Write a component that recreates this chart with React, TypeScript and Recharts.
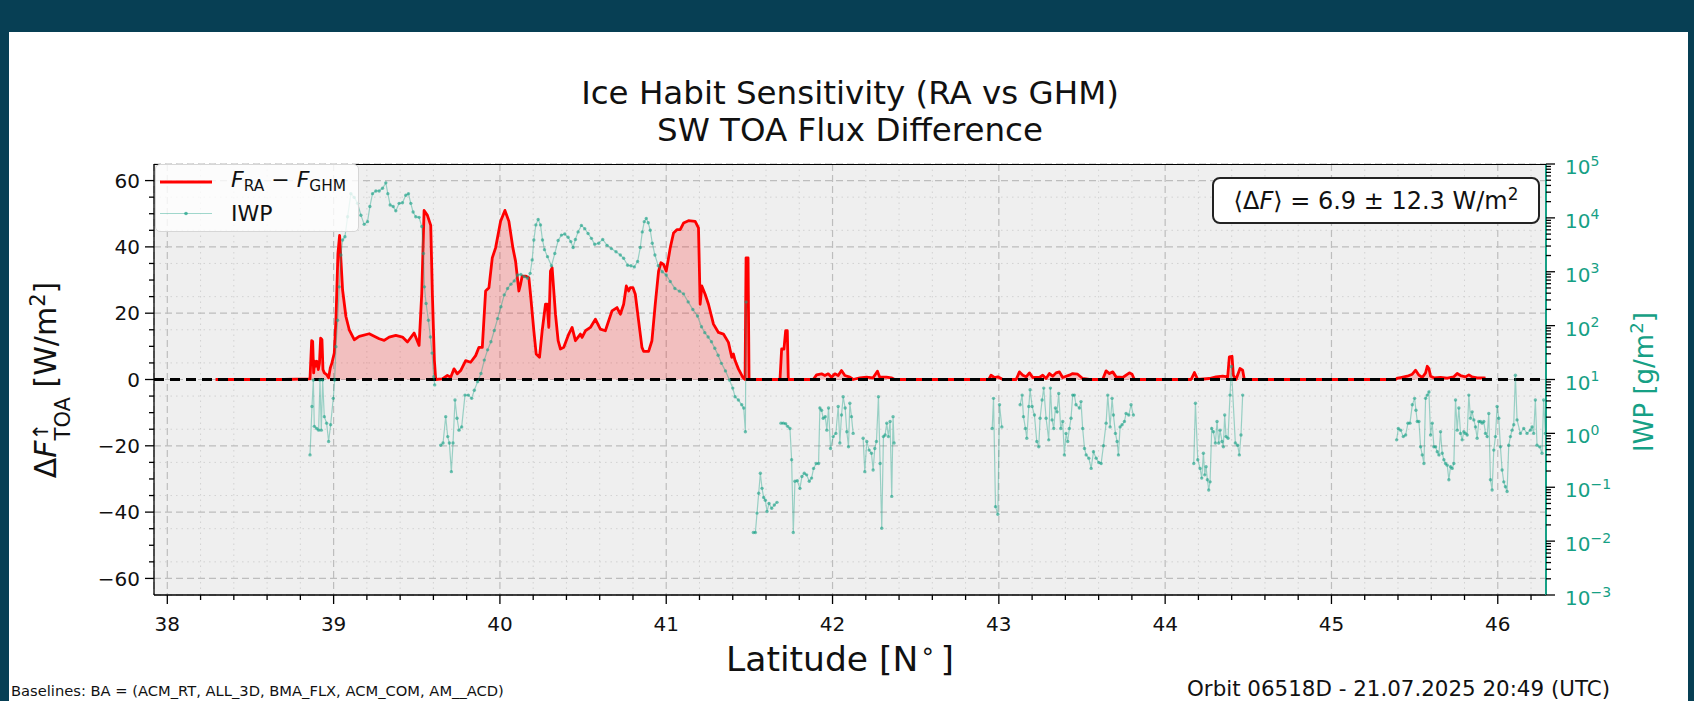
import React from 'react';
import { ComposedChart, Area, Line, XAxis, YAxis, CartesianGrid, ReferenceLine } from 'recharts';

const FONT = '"DejaVu Sans", "Liberation Sans", sans-serif';
const RED = '#ff0000';
const TEAL = '#16a085';
const FRAME = '#073f54';
const TICK_FS = 20;

// axis ticks
const LAT_MAJOR = [38, 39, 40, 41, 42, 43, 44, 45, 46];
const FLUX_MAJOR = [-60, -40, -20, 0, 20, 40, 60];
const IWP_EXPONENTS = [-3, -2, -1, 0, 1, 2, 3, 4, 5];

// F_RA - F_GHM  [latitude, W/m2]
const FLUX_WEST: [number, number][] = [
  [38.29, 0], [38.5, 0], [38.7, 0], [38.858, 0.2], [38.868, 11.7], [38.874, 11.5], [38.88, 2.0],
  [38.886, 5.5], [38.892, 4.0], [38.9, 5.5], [38.908, 3.0], [38.915, 5.0], [38.922, 12.5], [38.93, 12.0],
  [38.936, 3.0], [38.944, 2.0], [38.958, 1.5], [38.97, 0.5], [38.98, 3.5], [38.99, 5.0], [39.004, 8.0],
  [39.014, 18], [39.026, 38], [39.036, 43.5], [39.044, 36], [39.054, 27], [39.074, 19], [39.094, 15],
  [39.124, 12.0], [39.154, 13.0], [39.214, 13.8], [39.274, 12.3], [39.304, 11.8], [39.334, 12.8],
  [39.374, 13.3], [39.414, 12.8], [39.444, 11.3], [39.484, 14], [39.514, 10.3], [39.53, 26], [39.544, 51],
  [39.564, 49.5], [39.584, 46.5], [39.594, 25.5], [39.606, 5.7], [39.614, 0],
];
const FLUX_CORE: [number, number][] = [
  [39.654, 0.2], [39.684, 1.2], [39.704, 0.7], [39.724, 3.2], [39.744, 1.7], [39.764, 2.7], [39.794, 5.7],
  [39.824, 5.2], [39.854, 7.2], [39.874, 9.7], [39.894, 9.7], [39.914, 26.7], [39.934, 27.7], [39.954, 36.7],
  [39.974, 39.7], [40.004, 47.7], [40.03, 51], [40.054, 47.7], [40.078, 39.7], [40.094, 35.7], [40.114, 26.7],
  [40.124, 28.7], [40.134, 31.2], [40.154, 31.2], [40.174, 30.7], [40.184, 25.7], [40.204, 14.7], [40.218, 7.7],
  [40.238, 6.7], [40.254, 14.7], [40.274, 22.7], [40.284, 22.7], [40.294, 15.7], [40.304, 32.7], [40.314, 33.7],
  [40.334, 19.7], [40.35, 11.7], [40.364, 9.2], [40.384, 9.7], [40.414, 13.7], [40.434, 15.7], [40.454, 11.7],
  [40.484, 13.7], [40.494, 12.7], [40.514, 14.7], [40.544, 15.7], [40.574, 18.2], [40.604, 15.2], [40.634, 14.7],
  [40.654, 17.7], [40.674, 20.7], [40.704, 21.7], [40.724, 19.7], [40.744, 22.7], [40.76, 28.2], [40.774, 26.7],
  [40.784, 27.7], [40.8, 27.7], [40.814, 25.7], [40.834, 17.7], [40.854, 9.7], [40.864, 8.5], [40.894, 8.5],
  [40.914, 11.7], [40.934, 22.7], [40.954, 32.7], [40.968, 35.2], [40.984, 34.7], [41.0, 32.7], [41.014, 36.7],
  [41.024, 39.7], [41.044, 44.2], [41.064, 45.2], [41.084, 45.2], [41.104, 47.2], [41.134, 47.9], [41.174, 47.7],
  [41.194, 45.7], [41.204, 22.7], [41.214, 28.2], [41.234, 25.7], [41.254, 22.7], [41.284, 16.7], [41.314, 14.2],
  [41.344, 13.7], [41.374, 11.2], [41.394, 6.7], [41.404, 7.7], [41.414, 5.7], [41.434, 3.2], [41.46, 0.7],
  [41.474, 0], [41.48, 36.7], [41.492, 36.7], [41.498, 0],
];
const FLUX_EAST: [number, number][] = [
  [41.524, 0], [41.684, 0], [41.694, 9.2], [41.708, 9.2], [41.718, 14.7], [41.728, 14.7], [41.734, 0],
  [41.884, 0], [41.904, 1.4], [41.934, 1.7], [41.954, 1.2], [41.974, 1.7], [41.994, 0.7], [42.014, 1.7],
  [42.034, 1.2], [42.054, 2.7], [42.074, 1.2], [42.104, 0.7], [42.124, 0], [42.164, 0.5], [42.204, 0.7],
  [42.244, 0.5], [42.27, 2.5], [42.284, 0.7], [42.324, 0.7], [42.354, 0.5], [42.374, 0], [42.94, 0],
  [42.953, 1.3], [42.973, 0.6], [42.994, 0.8], [43.024, 0], [43.104, 0], [43.124, 2.3], [43.144, 1.3],
  [43.164, 0.8], [43.184, 2.0], [43.204, 0.6], [43.244, 0.6], [43.264, 1.3], [43.284, 0.3], [43.304, 1.8],
  [43.324, 1.0], [43.344, 2.0], [43.364, 2.3], [43.384, 0.6], [43.424, 1.3], [43.444, 1.8], [43.474, 1.6],
  [43.504, 0.3], [43.544, 0], [43.624, 0], [43.645, 2.6], [43.665, 1.8], [43.685, 2.3], [43.705, 0.8],
  [43.745, 0.6], [43.785, 2.0], [43.801, 1.6], [43.815, 0], [44.156, 0], [44.176, 2.1], [44.196, 0],
  [44.266, 0.3], [44.306, 0.8], [44.346, 1.0], [44.376, 0.8], [44.386, 6.8], [44.402, 7.0], [44.41, 1.3],
  [44.426, 0], [44.45, 3.3], [44.466, 2.8], [44.476, 0], [45.386, 0], [45.396, 0.4], [45.416, 0.6],
  [45.456, 1.0], [45.486, 1.6], [45.506, 2.8], [45.526, 1.3], [45.546, 0.6], [45.566, 2.0], [45.576, 4.0],
  [45.586, 3.3], [45.596, 1.0], [45.616, 0.5], [45.656, 0.6], [45.696, 0.4], [45.736, 0.8], [45.756, 1.8],
  [45.776, 1.2], [45.806, 0.8], [45.826, 1.4], [45.846, 0.8], [45.876, 0.5], [45.916, 0.5], [45.926, 0.4],
];

// IWP: [latitude, log10(g/m2)], one array per contiguous segment
const IWP_A: [number, number][] = [
  [38.858, -0.40], [38.87, 0.50], [38.878, 0.99], [38.884, 0.13], [38.898, 0.09], [38.91, 0.06], [38.918, 0.99],
  [38.926, 0.06], [38.934, 0.99], [38.944, 0.31], [38.958, 0.19], [38.97, -0.15], [38.982, 0.16], [38.998, 0.65],
  [39.006, 0.99], [39.014, 1.61], [39.024, 2.10], [39.034, 2.72], [39.044, 3.31], [39.054, 3.59], [39.068, 3.65],
  [39.084, 4.02], [39.104, 4.45], [39.124, 4.38], [39.144, 4.27], [39.164, 4.05], [39.184, 3.88], [39.204, 3.93],
  [39.218, 4.21], [39.234, 4.45], [39.254, 4.50], [39.274, 4.50], [39.294, 4.55], [39.314, 4.65], [39.326, 4.45],
  [39.34, 4.24], [39.358, 4.21], [39.374, 4.13], [39.394, 4.27], [39.414, 4.28], [39.434, 4.42], [39.45, 4.45],
  [39.464, 4.27], [39.478, 4.11], [39.494, 4.02], [39.514, 4.01], [39.53, 3.84], [39.54, 3.34], [39.546, 2.72],
  [39.556, 2.41], [39.57, 2.10], [39.582, 1.79], [39.592, 1.49], [39.602, 1.05], [39.608, 0.90],
];
const IWP_B: [number, number][] = [
  [39.644, -0.22], [39.658, -0.18], [39.674, 0.31], [39.686, -0.06], [39.696, -0.18], [39.708, -0.71],
  [39.718, -0.18], [39.73, 0.62], [39.742, 0.28], [39.754, 0.06], [39.77, 0.12], [39.79, 0.71], [39.81, 0.71],
  [39.83, 0.65], [39.846, 0.80], [39.866, 0.96], [39.886, 1.11], [39.906, 1.36], [39.926, 1.55], [39.946, 1.70],
  [39.966, 1.91], [39.986, 2.13], [40.006, 2.35], [40.026, 2.57], [40.046, 2.69], [40.066, 2.77], [40.086, 2.83],
  [40.106, 2.94], [40.126, 2.95], [40.146, 2.91], [40.166, 2.88], [40.182, 2.97], [40.194, 3.22], [40.204, 3.59],
  [40.216, 3.87], [40.23, 3.97], [40.244, 3.87], [40.256, 3.59], [40.268, 3.41], [40.286, 3.28], [40.31, 3.11],
  [40.33, 3.34], [40.35, 3.58], [40.37, 3.68], [40.39, 3.70], [40.41, 3.64], [40.426, 3.56], [40.44, 3.45],
  [40.454, 3.60], [40.47, 3.74], [40.49, 3.86], [40.51, 3.80], [40.53, 3.71], [40.55, 3.62], [40.57, 3.51],
  [40.594, 3.53], [40.618, 3.60], [40.644, 3.49], [40.67, 3.43], [40.698, 3.37], [40.724, 3.31], [40.744, 3.25],
  [40.768, 3.12], [40.788, 3.11], [40.808, 3.09], [40.828, 3.19], [40.844, 3.45], [40.856, 3.74], [40.868, 3.93],
  [40.88, 3.99], [40.892, 3.91], [40.904, 3.77], [40.916, 3.53], [40.932, 3.31], [40.952, 3.11], [40.976, 3.00],
  [41.0, 2.94], [41.024, 2.82], [41.052, 2.69], [41.08, 2.64], [41.104, 2.59], [41.132, 2.44], [41.16, 2.30],
  [41.188, 2.18], [41.212, 1.98], [41.232, 1.87], [41.252, 1.79], [41.272, 1.70], [41.292, 1.58], [41.312, 1.45],
  [41.332, 1.30], [41.356, 1.16], [41.38, 0.99], [41.4, 0.84], [41.414, 0.68], [41.434, 0.62], [41.454, 0.53],
  [41.466, 0.47], [41.476, 0.03], [41.48, 2.44],
];
const IWP_C: [number, number][] = [
  [41.524, -1.84], [41.536, -1.84], [41.546, -1.48], [41.556, -1.11], [41.566, -0.74], [41.576, -1.02],
  [41.586, -1.19], [41.596, -1.24], [41.606, -1.45], [41.618, -1.30], [41.634, -1.39], [41.65, -1.33], [41.666, -1.28],
];
const IWP_D: [number, number][] = [
  [41.69, 0.19], [41.704, 0.19], [41.718, 0.18], [41.73, 0.13], [41.744, 0.09], [41.754, -0.49], [41.764, -1.84],
  [41.774, -0.89], [41.788, -0.88], [41.804, -1.02], [41.816, -0.80], [41.83, -0.74], [41.844, -0.77],
  [41.86, -0.89], [41.874, -0.83], [41.886, -0.65], [41.902, -0.56], [41.916, -0.56], [41.924, 0.47],
  [41.934, 0.43], [41.944, 0.28], [41.956, 0.31], [41.966, 0.06], [41.976, 0.47], [41.988, -0.28], [42.004, -0.06],
  [42.02, 0.0], [42.034, 0.50], [42.044, -0.18], [42.054, 0.34], [42.064, 0.68], [42.076, 0.47], [42.086, 0.03],
  [42.096, -0.25], [42.104, 0.56], [42.114, 0.31], [42.124, 0.0],
];
const IWP_E: [number, number][] = [
  [42.184, -0.09], [42.194, -0.71], [42.206, -0.15], [42.22, -0.31], [42.234, -0.37], [42.244, -0.68],
  [42.254, -0.28], [42.264, -0.15], [42.276, 0.68], [42.286, -0.56], [42.296, -1.76], [42.306, -0.06],
  [42.316, -0.03], [42.326, 0.19], [42.336, -0.06], [42.346, 0.22], [42.356, -1.17], [42.364, 0.31], [42.37, -0.18],
];
const IWP_F: [number, number][] = [
  [42.96, 0.09], [42.968, 0.65], [42.98, -1.36], [42.994, -1.50], [43.004, 0.53], [43.018, 0.12],
];
const IWP_G: [number, number][] = [
  [43.128, 0.53], [43.14, 0.71], [43.148, 0.31], [43.16, 0.09], [43.168, -0.09], [43.18, 0.50], [43.188, 0.81],
  [43.2, 0.50], [43.214, 0.34], [43.228, -0.15], [43.24, -0.25], [43.248, 0.28], [43.26, 0.62], [43.27, 0.84],
  [43.284, 0.28], [43.3, -0.12], [43.31, 0.84], [43.32, 0.25], [43.33, 0.09], [43.34, 0.47], [43.35, 0.40],
  [43.36, 0.74], [43.372, 0.09], [43.384, 0.22], [43.394, -0.40], [43.404, 0.0], [43.414, -0.15], [43.424, 0.09],
  [43.434, 0.28], [43.444, 0.71], [43.454, 0.71], [43.464, 0.53], [43.484, 0.47], [43.494, 0.59], [43.504, 0.09],
  [43.515, -0.28], [43.525, -0.40], [43.541, -0.46], [43.555, -0.65], [43.569, -0.34], [43.585, -0.46],
  [43.601, -0.54], [43.615, -0.56], [43.629, -0.23], [43.645, 0.19], [43.655, 0.71], [43.669, 0.12], [43.681, 0.65],
  [43.689, 0.34], [43.701, 0.0], [43.711, -0.15], [43.719, -0.40], [43.729, 0.12], [43.741, 0.16], [43.755, 0.22],
  [43.765, 0.37], [43.781, 0.34], [43.795, 0.53], [43.809, 0.34],
];
const IWP_H: [number, number][] = [
  [44.172, -0.56], [44.182, 0.56], [44.196, -0.49], [44.21, -0.65], [44.22, -0.83], [44.23, -0.37], [44.238, -0.77],
  [44.246, -0.62], [44.254, -0.86], [44.262, -1.05], [44.27, -0.90], [44.28, 0.09], [44.29, 0.03], [44.302, -0.18],
  [44.312, 0.22], [44.322, -0.18], [44.33, 0.06], [44.342, -0.15], [44.35, -0.25], [44.358, 0.34], [44.366, -0.06],
  [44.378, -0.09], [44.39, 0.71], [44.398, 1.24], [44.422, -0.18], [44.436, -0.22], [44.446, -0.40], [44.456, -0.03],
  [44.466, 0.71],
];
const IWP_I: [number, number][] = [
  [45.392, -0.12], [45.402, 0.09], [45.416, 0.06], [45.432, -0.06], [45.446, -0.03], [45.46, 0.19], [45.472, 0.19],
  [45.486, 0.53], [45.5, 0.65], [45.508, 0.43], [45.516, 0.22], [45.526, 0.22], [45.536, -0.25], [45.546, -0.40],
  [45.556, -0.56], [45.566, 0.65], [45.576, 0.71], [45.586, 0.77], [45.596, -0.03], [45.606, 0.19], [45.616, -0.25],
  [45.626, -0.25], [45.636, -0.34], [45.646, -0.40], [45.656, 0.03], [45.666, -0.37], [45.676, -0.49], [45.686, -0.56],
  [45.696, -0.59], [45.706, -0.86], [45.716, -0.62], [45.726, -0.65], [45.736, -0.56], [45.746, 0.62], [45.756, 0.06],
  [45.766, 0.47], [45.776, 0.0], [45.786, -0.12], [45.796, 0.03], [45.806, 0.0], [45.816, -0.03], [45.826, 0.71],
  [45.836, 0.28], [45.846, 0.40], [45.856, 0.25], [45.866, 0.12], [45.876, -0.09], [45.886, 0.22], [45.896, 0.22],
  [45.906, 0.19], [45.916, 0.22], [45.926, 0.0], [45.936, -0.06], [45.946, 0.37], [45.956, -0.86], [45.966, -1.05],
  [45.976, -0.31], [45.986, -0.06], [45.996, 0.50], [46.006, 0.28], [46.016, -0.25], [46.026, -0.68], [46.036, -0.90],
  [46.046, -0.99], [46.056, -1.08], [46.066, -0.22], [46.076, -0.06], [46.086, 0.06], [46.096, 0.16], [46.106, 1.08],
  [46.116, 0.25], [46.136, 0.0], [46.156, 0.09], [46.176, 0.0], [46.196, 0.06], [46.206, 0.12], [46.216, 0.0],
  [46.226, 0.62], [46.236, -0.22], [46.252, -0.25], [46.266, -0.37], [46.276, 0.62], [46.286, 0.0],
];

const LAT_DOMAIN: [number, number] = [37.92, 46.29];
const FLUX_DOMAIN: [number, number] = [-65, 65];

const LAT_MINOR = Array.from({ length: 42 }, (_, i) => Math.round((38 + i * 0.2) * 10) / 10).filter(
  (v) => !LAT_MAJOR.includes(v)
);
const FLUX_MINOR = Array.from({ length: 25 }, (_, i) => -60 + i * 5).filter((v) => !FLUX_MAJOR.includes(v));
const IWP_MAJOR = IWP_EXPONENTS.map((e) => 10 ** e);
const IWP_MINOR = IWP_EXPONENTS.slice(0, -1).flatMap((e) => [2, 3, 4, 5, 6, 7, 8, 9].map((k) => k * 10 ** e));

const fluxData = [...FLUX_WEST, ...FLUX_CORE, ...FLUX_EAST].map(([lat, flux]) => ({ lat, flux }));
const iwpSegments = [IWP_A, IWP_B, IWP_C, IWP_D, IWP_E, IWP_F, IWP_G, IWP_H, IWP_I].map((seg) =>
  seg.map(([lat, e]) => ({ lat, iwp: 10 ** e }))
);

const minus = (v: number) => (v < 0 ? '\u2212' + Math.abs(v) : String(v));

const LatTick = (props: any) => {
  const { x, y, payload } = props;
  const major = LAT_MAJOR.includes(payload.value);
  return (
    <g>
      <line x1={x} y1={y} x2={x} y2={y + (major ? 9 : 5)} stroke="#000" strokeWidth={1.3} />
      {major && (
        <text x={x} y={y + 36} textAnchor="middle" fontSize={TICK_FS} fill="#111" fontFamily={FONT}>
          {payload.value}
        </text>
      )}
    </g>
  );
};

const FluxTick = (props: any) => {
  const { x, y, payload } = props;
  const major = FLUX_MAJOR.includes(payload.value);
  return (
    <g>
      <line x1={x} y1={y} x2={x - (major ? 9 : 5)} y2={y} stroke="#000" strokeWidth={1.3} />
      {major && (
        <text x={x - 14} y={y} dy="0.36em" textAnchor="end" fontSize={TICK_FS} fill="#111" fontFamily={FONT}>
          {minus(payload.value)}
        </text>
      )}
    </g>
  );
};

const IwpTick = (props: any) => {
  const { x, y, payload } = props;
  const e = Math.log10(payload.value);
  const major = Math.abs(e - Math.round(e)) < 1e-6;
  return (
    <g>
      <line x1={x} y1={y} x2={x + (major ? 9 : 5)} y2={y} stroke="#000" strokeWidth={1.3} />
      {major && (
        <text x={x + 19} y={y} dy="0.5em" fontSize={TICK_FS} fill={TEAL} fontFamily={FONT}>
          <tspan>10</tspan>
          <tspan dy="-0.6em" fontSize={TICK_FS * 0.7}>
            {minus(Math.round(e))}
          </tspan>
        </text>
      )}
    </g>
  );
};

const Label = ({ x, y, size, color = '#111', rotate = 0, children }: any) => (
  <div
    style={{
      position: 'absolute',
      left: x,
      top: y,
      transform: `translate(-50%, -50%) rotate(${rotate}deg)`,
      fontSize: size,
      color,
      whiteSpace: 'nowrap',
      lineHeight: 1,
    }}
  >
    {children}
  </div>
);

export default function App() {
  return (
    <div
      style={{
        position: 'absolute',
        left: 0,
        top: 0,
        width: 1694,
        height: 701,
        background: FRAME,
        overflow: 'hidden',
        fontFamily: FONT,
      }}
    >
      <div style={{ position: 'absolute', left: 9, top: 32, width: 1679, height: 669, background: '#fff' }} />

      <Label x={850} y={93} size={32.5}>Ice Habit Sensitivity (RA vs GHM)</Label>
      <Label x={850} y={130} size={32.5}>SW TOA Flux Difference</Label>

      <div style={{ position: 'absolute', left: 0, top: 0 }}>
        <ComposedChart width={1694} height={701} margin={{ top: 164, right: 0, bottom: 0, left: 0 }}>
          <XAxis
            xAxisId="lat"
            type="number"
            dataKey="lat"
            domain={LAT_DOMAIN}
            allowDataOverflow
            ticks={[...LAT_MAJOR, ...LAT_MINOR]}
            interval={0}
            tick={LatTick}
            tickLine={false}
            tickSize={0}
            tickMargin={0}
            axisLine={{ stroke: '#000', strokeWidth: 1.3 }}
            height={106}
          />
          <XAxis xAxisId="latMajor" type="number" dataKey="lat" domain={LAT_DOMAIN} allowDataOverflow ticks={LAT_MAJOR} hide />
          <XAxis xAxisId="latMinor" type="number" dataKey="lat" domain={LAT_DOMAIN} allowDataOverflow ticks={LAT_MINOR} hide />
          <YAxis
            yAxisId="flux"
            type="number"
            domain={FLUX_DOMAIN}
            allowDataOverflow
            ticks={[...FLUX_MAJOR, ...FLUX_MINOR]}
            interval={0}
            tick={FluxTick}
            tickLine={false}
            tickSize={0}
            tickMargin={0}
            axisLine={{ stroke: '#000', strokeWidth: 1.3 }}
            width={154}
          />
          <YAxis yAxisId="fluxMajor" type="number" domain={FLUX_DOMAIN} allowDataOverflow ticks={FLUX_MAJOR} hide />
          <YAxis yAxisId="fluxMinor" type="number" domain={FLUX_DOMAIN} allowDataOverflow ticks={FLUX_MINOR} hide />
          <YAxis
            yAxisId="iwp"
            orientation="right"
            type="number"
            scale="log"
            domain={[1e-3, 1e5]}
            allowDataOverflow
            ticks={[...IWP_MAJOR, ...IWP_MINOR]}
            interval={0}
            tick={IwpTick}
            tickLine={false}
            tickSize={0}
            tickMargin={0}
            axisLine={{ stroke: TEAL, strokeWidth: 2 }}
            width={148}
          />

          <CartesianGrid xAxisId="latMinor" yAxisId="fluxMinor" fill="#efefef" stroke="#d2d2d2" strokeDasharray="1.5 4" />
          <CartesianGrid xAxisId="latMajor" yAxisId="fluxMajor" stroke="#bdbdbd" strokeWidth={1.2} strokeDasharray="7 4" />

          <Area
            data={fluxData}
            xAxisId="lat"
            yAxisId="flux"
            dataKey="flux"
            type="linear"
            baseValue={0}
            stroke={RED}
            strokeWidth={2.8}
            strokeLinejoin="round"
            fill={RED}
            fillOpacity={0.2}
            dot={false}
            activeDot={false}
            isAnimationActive={false}
          />
          <ReferenceLine xAxisId="lat" yAxisId="flux" y={0} stroke="#000" strokeWidth={3} strokeDasharray="10 6" />

          {iwpSegments.map((seg, i) => (
            <Line
              key={i}
              data={seg}
              xAxisId="lat"
              yAxisId="iwp"
              dataKey="iwp"
              type="linear"
              stroke={TEAL}
              strokeOpacity={0.4}
              strokeWidth={1.2}
              dot={{ r: 1.7, fill: TEAL, fillOpacity: 0.6, stroke: 'none' }}
              activeDot={false}
              isAnimationActive={false}
            />
          ))}
        </ComposedChart>
      </div>

      {/* top spine */}
      <div style={{ position: 'absolute', left: 154, top: 164, width: 1392, borderTop: '1.3px solid #000' }} />

      {/* legend */}
      <div
        style={{
          position: 'absolute',
          left: 155,
          top: 164,
          width: 204,
          height: 68,
          boxSizing: 'border-box',
          background: 'rgba(255,255,255,0.8)',
          border: '1px solid #d6d6d6',
          borderRadius: 5,
          fontSize: 22,
          color: '#111',
        }}
      >
        <svg width={60} height={68} style={{ position: 'absolute', left: 0, top: 0 }}>
          <line x1={4} y1={17} x2={56} y2={17} stroke={RED} strokeWidth={3} />
          <line x1={4} y1={48.5} x2={56} y2={48.5} stroke={TEAL} strokeOpacity={0.4} strokeWidth={1.2} />
          <circle cx={30} cy={48.5} r={1.8} fill={TEAL} fillOpacity={0.7} />
        </svg>
        <div style={{ position: 'absolute', left: 75, top: 4, lineHeight: 1 }}>
          <i>F</i>
          <sub style={{ fontSize: '0.7em', verticalAlign: '-0.25em' }}>RA</sub>
          {' \u2212 '}
          <i>F</i>
          <sub style={{ fontSize: '0.7em', verticalAlign: '-0.25em' }}>GHM</sub>
        </div>
        <div style={{ position: 'absolute', left: 75, top: 38, lineHeight: 1 }}>IWP</div>
      </div>

      {/* mean difference box */}
      <div
        style={{
          position: 'absolute',
          left: 1212,
          top: 177,
          width: 328,
          height: 47,
          boxSizing: 'border-box',
          border: '2px solid #222',
          borderRadius: 8,
          background: '#fff',
          fontSize: 24,
          color: '#111',
          display: 'flex',
          alignItems: 'center',
          justifyContent: 'center',
          whiteSpace: 'nowrap',
        }}
      >
        <span>
          {'\u27e8\u0394'}
          <i>F</i>
          {'\u27e9 = 6.9 \u00b1 12.3 W/m'}
          <sup style={{ fontSize: '0.7em', lineHeight: 0 }}>2</sup>
        </span>
      </div>

      {/* axis labels */}
      <Label x={52} y={380} size={30} rotate={-90}>
        {'\u0394'}
        <i>F</i>
        <span
          style={{
            display: 'inline-flex',
            flexDirection: 'column',
            fontSize: '0.7em',
            lineHeight: 1.05,
            verticalAlign: '0.4em',
          }}
        >
          <span>{'\u2191'}</span>
          <span>TOA</span>
        </span>
        {' [W/m'}
        <sup style={{ fontSize: '0.7em', lineHeight: 0 }}>2</sup>
        {']'}
      </Label>
      <Label x={1644} y={382} size={26} rotate={-90} color={TEAL}>
        {'IWP [g/m'}
        <sup style={{ fontSize: '0.7em', lineHeight: 0 }}>2</sup>
        {']'}
      </Label>
      <Label x={840} y={659} size={34.5}>
        {'Latitude [N'}
        <sup style={{ fontSize: '0.7em', lineHeight: 0, margin: '0 5px 0 2px' }}>{'\u2218'}</sup>
        {']'}
      </Label>

      {/* footer */}
      <div style={{ position: 'absolute', left: 11, top: 684, fontSize: 14.7, lineHeight: 1, color: '#111', whiteSpace: 'nowrap' }}>
        Baselines: BA = (ACM_RT, ALL_3D, BMA_FLX, ACM_COM, AM__ACD)
      </div>
      <div
        style={{ position: 'absolute', right: 1694 - 1610, top: 678, fontSize: 21.4, lineHeight: 1, color: '#111', whiteSpace: 'nowrap' }}
      >
        Orbit 06518D - 21.07.2025 20:49 (UTC)
      </div>
    </div>
  );
}
